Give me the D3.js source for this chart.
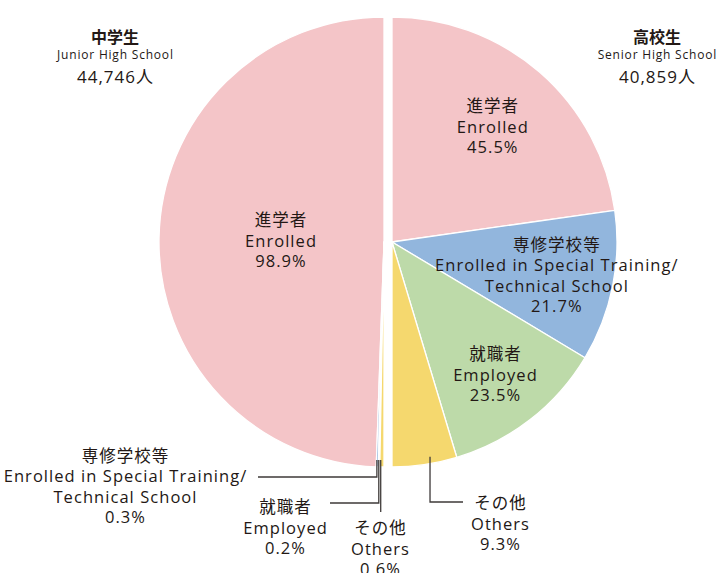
<!DOCTYPE html>
<html>
<head>
<meta charset="utf-8">
<script src="https://cdn.jsdelivr.net/npm/d3@7"></script>
<style>
  body { margin: 0; background: #fff; }
  text { font-family: "Open Sans", "Noto Sans CJK JP", sans-serif; fill: #231815; }
</style>
</head>
<body>
<div id="vis"></div>
<script>
// data
const categoriesJa = ['進学者', '専修学校等', '就職者', 'その他']
const categoriesEn = [['Enrolled'], ['Enrolled in Special Training/', 'Technical School'], ['Employed'], ['Others']]
const juniorValues = [98.9, 0.3, 0.2, 0.6]
const seniorValues = [45.5, 21.7, 23.5, 9.3]
const groupJa = ['中学生', '高校生']
const groupEn = ['Junior High School', 'Senior High School']
const groupTotals = ['44,746人', '40,859人']

const W = 719, H = 573
const colors = ['#f4c5c8', '#92b6dd', '#bddaa9', '#f5d86e']
const r = 225
const cy = 242
const centers = [384, 392]   // left half / right half (split apart)
const lineH = 20.5
const spacing = 1.05

const svg = d3.select('#vis').append('svg')
  .attr('width', W).attr('height', H)

const arc = d3.arc().innerRadius(0).outerRadius(r)

// left half runs counter-clockwise from the top, right half clockwise
const pieLeft = d3.pie().sort(null).startAngle(0).endAngle(-Math.PI)
const pieRight = d3.pie().sort(null).startAngle(0).endAngle(Math.PI)

const arcsLeft = pieLeft(juniorValues)
const arcsRight = pieRight(seniorValues)

function drawHalf(arcs, cx) {
  const g = svg.append('g').attr('transform', `translate(${cx},${cy})`)
  g.selectAll('path')
    .data(arcs)
    .enter()
    .append('path')
    .attr('d', arc)
    .attr('fill', (d, i) => colors[i])
    .attr('stroke', '#fff')
    .attr('stroke-width', 1.3)
    .attr('stroke-linejoin', 'round')
  return g
}
drawHalf(arcsLeft, centers[0])
drawHalf(arcsRight, centers[1])

function midAngle(d) { return (d.startAngle + d.endAngle) / 2 }
function polar(cx, a, rad) { return [cx + rad * Math.sin(a), cy - rad * Math.cos(a)] }

function labelLines(i, v) {
  return [categoriesJa[i]].concat(categoriesEn[i]).concat([v.toFixed(1) + '%'])
}

// centred text; letter-spacing leaves a trailing gap, so nudge by half of it
function block(x, yMid, lines, size) {
  const n = lines.length
  const t = svg.append('text')
    .attr('text-anchor', 'middle')
    .attr('font-size', size || 16.5)
    .style('letter-spacing', spacing + 'px')
  lines.forEach((s, k) => {
    t.append('tspan')
      .attr('x', x + spacing / 2)
      .attr('y', yMid + (k - (n - 1) / 2) * lineH)
      .attr('dominant-baseline', 'central')
      .text(s)
  })
}

// inside labels: [half, slice index, radius factor]
const inside = [[0, 0, 0.46], [1, 0, 0.68], [1, 1, 0.745], [1, 2, 0.745]]
inside.forEach(([h, i, f]) => {
  const d = h === 0 ? arcsLeft[i] : arcsRight[i]
  const p = polar(centers[h], midAngle(d), r * f)
  block(p[0], p[1], labelLines(i, d.value))
})

// outside labels with leader lines
const lineColor = '#3e3a39'
function leader(pts) {
  svg.append('path')
    .attr('d', d3.line()(pts))
    .attr('fill', 'none')
    .attr('stroke', lineColor)
    .attr('stroke-width', 1.3)
}
// point a little way into the slice (not exactly the middle, like the original)
function anchor(d, cx, t) {
  const a = d.startAngle + (d.endAngle - d.startAngle) * t
  return polar(cx, a, r - 7)
}

// junior: special training, employed, others
{
  const d = arcsLeft[1]
  const p = anchor(d, centers[0], 0.2)
  leader([p, [p[0], 477], [258, 477]])
  block(125, 486, labelLines(1, d.value))
}
{
  const d = arcsLeft[2]
  const p = anchor(d, centers[0], 0.2)
  leader([p, [p[0], 503], [330, 503]])
  block(285, 527, labelLines(2, d.value))
}
{
  const d = arcsLeft[3]
  const p = anchor(d, centers[0], 0.2)
  leader([p, [p[0], 512]])
  block(380, 548, labelLines(3, d.value))
}
// senior: others
{
  const d = arcsRight[3]
  const p = anchor(d, centers[1], 0.4)
  leader([p, [p[0], 502], [463, 502]])
  block(500, 523, labelLines(3, d.value))
}

// group headings
const headX = [115, 657]
headX.forEach((x, i) => {
  svg.append('text').attr('x', x).attr('y', 36)
    .attr('text-anchor', 'middle').attr('dominant-baseline', 'central')
    .attr('font-size', 16)
    .style('font-family', '"Noto Sans CJK JP", sans-serif')
    .style('font-weight', 700)
    .text(groupJa[i])
  svg.append('text').attr('x', x + 0.4).attr('y', 54)
    .attr('text-anchor', 'middle').attr('dominant-baseline', 'central')
    .attr('font-size', 12)
    .style('letter-spacing', '0.8px')
    .text(groupEn[i])
  svg.append('text').attr('x', x + 0.5).attr('y', 76)
    .attr('text-anchor', 'middle').attr('dominant-baseline', 'central')
    .attr('font-size', 17)
    .style('letter-spacing', '1px')
    .text(groupTotals[i])
})
</script>
</body>
</html>
